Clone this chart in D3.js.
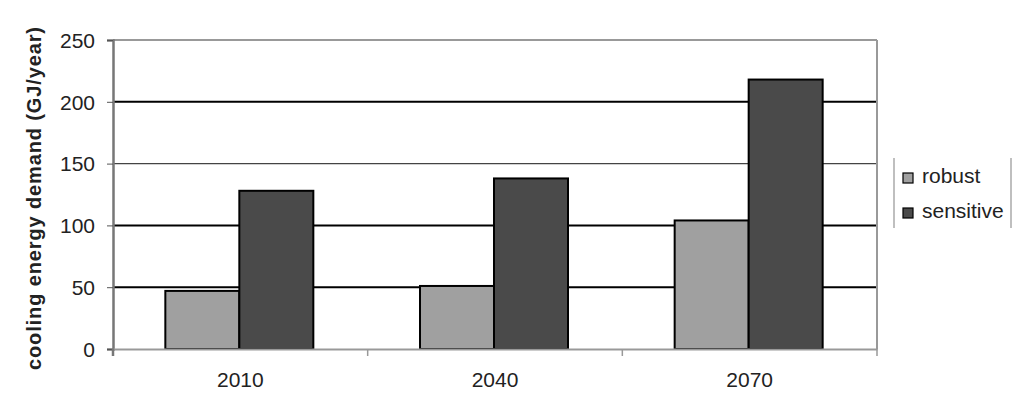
<!DOCTYPE html>
<html>
<head>
<meta charset="utf-8">
<script src="https://cdn.jsdelivr.net/npm/d3@7"></script>
<style>
body { margin: 0; background: #fff; }
text { font-family: "Liberation Sans", Arial, sans-serif; fill: #222; }
</style>
</head>
<body>
<svg id="chart" width="1024" height="408"></svg>
<script>
// data
var categories = ["2010", "2040", "2070"];
var seriesNames = ["robust", "sensitive"];
var robust = [47, 51, 104];
var sensitive = [128, 138, 218];
var yTicks = [0, 50, 100, 150, 200, 250];

var colors = { robust: "#a0a0a0", sensitive: "#4a4a4a" };

var plot = { left: 113, right: 877, top: 40, bottom: 349 };

var svg = d3.select("#chart");

var x = d3.scaleBand()
    .domain(categories)
    .range([plot.left, plot.right]);

var xInner = d3.scaleBand()
    .domain(seriesNames)
    .range([0, 148]);

var y = d3.scaleLinear()
    .domain([0, 250])
    .range([plot.bottom, plot.top]);

// grid lines
svg.append("g")
    .selectAll("line")
    .data(yTicks.filter(function(d) { return d > 0 && d < 250; }))
    .enter().append("line")
    .attr("x1", plot.left)
    .attr("x2", plot.right)
    .attr("y1", function(d) { return y(d); })
    .attr("y2", function(d) { return y(d); })
    .style("stroke", function(d) { return d === 150 ? "#444" : "#000"; })
    .style("stroke-width", function(d) { return d === 150 ? 1.2 : 2; });

// top / right frame
svg.append("line")
    .attr("x1", plot.left).attr("x2", plot.right)
    .attr("y1", plot.top).attr("y2", plot.top)
    .style("stroke", "#999").style("stroke-width", 2);
svg.append("line")
    .attr("x1", plot.right).attr("x2", plot.right)
    .attr("y1", plot.top).attr("y2", plot.bottom)
    .style("stroke", "#999").style("stroke-width", 2);

// bars
var groups = svg.append("g")
    .selectAll("g")
    .data(categories)
    .enter().append("g")
    .attr("transform", function(d) { return "translate(" + (x(d) + (x.bandwidth() - 148) / 2 - 1) + ",0)"; });

groups.selectAll("rect")
    .data(function(d, i) {
        return [
            { key: "robust", value: robust[i] },
            { key: "sensitive", value: sensitive[i] }
        ];
    })
    .enter().append("rect")
    .attr("x", function(d) { return xInner(d.key); })
    .attr("width", xInner.bandwidth())
    .attr("y", function(d) { return y(d.value); })
    .attr("height", function(d) { return plot.bottom - y(d.value); })
    .style("fill", function(d) { return colors[d.key]; })
    .style("stroke", "#000")
    .style("stroke-width", 2);

// y axis
var yAxis = d3.axisLeft(y)
    .tickValues(yTicks)
    .tickSize(6)
    .tickPadding(12);

var gy = svg.append("g")
    .attr("transform", "translate(" + plot.left + ",0)")
    .call(yAxis);
gy.select(".domain").style("stroke", "#777").style("stroke-width", 2.5);
gy.selectAll(".tick line").style("stroke", "#555");
gy.selectAll(".tick text")
    .style("font-size", "21px")
    .style("fill", "#222")
    .attr("dy", "0.35em");

// x axis
var gx = svg.append("g")
    .attr("transform", "translate(0," + plot.bottom + ")")
    .call(d3.axisBottom(x).tickSize(0).tickPadding(23));
gx.select(".domain").style("stroke", "#999").style("stroke-width", 2);
gx.selectAll(".tick text").style("font-size", "21px").style("fill", "#222");

// category boundary ticks
svg.append("g")
    .selectAll("line")
    .data(categories)
    .enter().append("line")
    .attr("x1", function(d) { return x(d) + x.bandwidth(); })
    .attr("x2", function(d) { return x(d) + x.bandwidth(); })
    .attr("y1", plot.bottom)
    .attr("y2", plot.bottom + 7)
    .style("stroke", "#999")
    .style("stroke-width", 1.5);
svg.append("line")
    .attr("x1", plot.left).attr("x2", plot.left)
    .attr("y1", plot.bottom).attr("y2", plot.bottom + 7)
    .style("stroke", "#777").style("stroke-width", 2.5);

// y label
svg.append("text")
    .attr("transform", "translate(41," + ((plot.top + plot.bottom) / 2 + 4) + ") rotate(-90)")
    .attr("text-anchor", "middle")
    .style("font-size", "20px")
    .style("font-weight", "bold")
    .style("fill", "#222")
    .attr("textLength", 343)
    .attr("lengthAdjust", "spacing")
    .text("cooling energy demand (GJ/year)");

// legend
var legend = svg.append("g").attr("transform", "translate(894,158)");
legend.append("line").attr("x1", 0).attr("x2", 0).attr("y1", 0).attr("y2", 70)
    .style("stroke", "#aaa").style("stroke-width", 1.5);
legend.append("line").attr("x1", 117).attr("x2", 117).attr("y1", 0).attr("y2", 70)
    .style("stroke", "#aaa").style("stroke-width", 1.5);

var items = legend.selectAll("g.item")
    .data(seriesNames)
    .enter().append("g")
    .attr("class", "item")
    .attr("transform", function(d, i) { return "translate(0," + (19 + i * 35) + ")"; });
items.append("rect")
    .attr("x", 9).attr("y", -4)
    .attr("width", 10).attr("height", 10)
    .style("fill", function(d) { return colors[d]; })
    .style("stroke", "#000").style("stroke-width", 1.2);
items.append("text")
    .attr("x", 28).attr("y", 6)
    .style("font-size", "21px")
    .style("fill", "#222")
    .text(function(d) { return d; });
</script>
</body>
</html>
